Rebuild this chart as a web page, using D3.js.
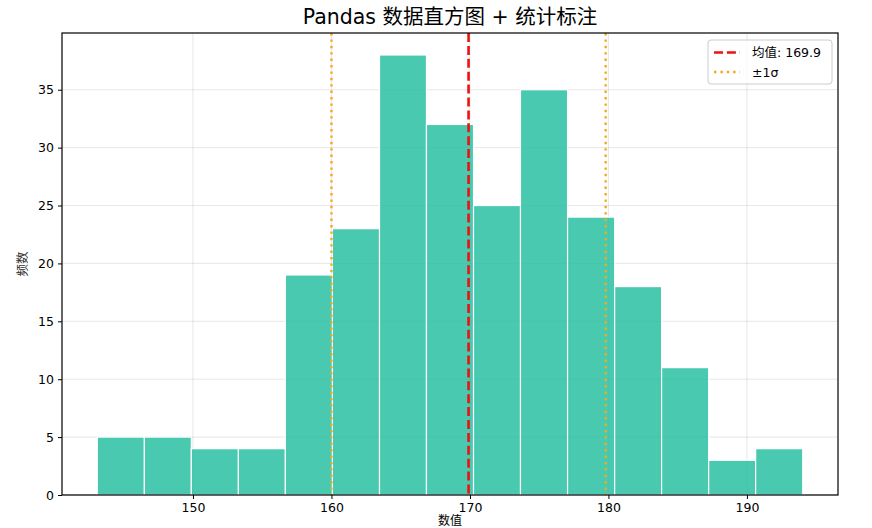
<!DOCTYPE html>
<html><head><meta charset="utf-8">
<script src="https://cdn.jsdelivr.net/npm/d3@7/dist/d3.min.js"></script>
<style>
body{margin:0;background:#fff;}
svg{display:block;}
text{font-family:"DejaVu Sans","Noto Sans CJK SC",sans-serif;}
</style></head>
<body>
<svg id="chart" width="872" height="528"></svg>
<script>
// Data
const binEdges = [143.09,146.49,149.88,153.28,156.67,160.07,163.47,166.86,170.26,173.65,177.05,180.45,183.84,187.24,190.63,194.03];
const counts = [5,5,4,4,19,23,38,32,25,35,24,18,11,3,4];
const meanValue = 169.9;
const sigmaLow = 160.0;
const sigmaHigh = 179.8;
const xTicks = [150,160,170,180,190];
const yTicks = [0,5,10,15,20,25,30,35];
const titleText = "Pandas 数据直方图 + 统计标注";
const xLabel = "数值";
const yLabel = "频数";
const legendLabels = ["均值: 169.9", "±1σ"];

const svg = d3.select("#chart");
const m = {left:62, right:838, top:33, bottom:495};

const xMin = binEdges[0], xMax = binEdges[binEdges.length-1];
const pad = (xMax - xMin) * 0.05;
const x = d3.scaleLinear().domain([xMin - pad, xMax + pad]).range([m.left, m.right]);
const yMaxC = d3.max(counts);
const y = d3.scaleLinear().domain([0, yMaxC * 1.05]).range([m.bottom, m.top]);
const sigmaColor = "#f2aa1f";

// grid
const g = svg.append("g");
g.selectAll("line.gx").data(xTicks).join("line")
  .attr("x1", d=>x(d)).attr("x2", d=>x(d)).attr("y1", m.top).attr("y2", m.bottom)
  .attr("stroke", "#b0b0b0").attr("stroke-opacity", 0.3).attr("stroke-width", 1);
g.selectAll("line.gy").data(yTicks).join("line")
  .attr("y1", d=>y(d)).attr("y2", d=>y(d)).attr("x1", m.left).attr("x2", m.right)
  .attr("stroke", "#b0b0b0").attr("stroke-opacity", 0.3).attr("stroke-width", 1);

// bars
const bins = counts.map((c,i)=>({x0:binEdges[i], x1:binEdges[i+1], c}));
svg.append("g").selectAll("rect").data(bins).join("rect")
  .attr("x", d=>x(d.x0)).attr("width", d=>x(d.x1)-x(d.x0))
  .attr("y", d=>y(d.c)).attr("height", d=>y(0)-y(d.c))
  .attr("fill", "#1abc9c").attr("fill-opacity", 0.8)
  .attr("stroke", "#ffffff").attr("stroke-width", 1.2);

// mean and sigma lines
svg.append("line").attr("x1", x(meanValue)).attr("x2", x(meanValue))
  .attr("y1", m.top).attr("y2", m.bottom)
  .attr("stroke", "#ee1111").attr("stroke-width", 2.6).attr("stroke-dasharray", "9,3.9");
[sigmaLow, sigmaHigh].forEach(v=>{
  svg.append("line").attr("x1", x(v)).attr("x2", x(v))
    .attr("y1", m.top).attr("y2", m.bottom)
    .attr("stroke", sigmaColor).attr("stroke-width", 2.4).attr("stroke-dasharray", "2.4,4");
});

// axes frame
svg.append("rect").attr("x", m.left).attr("y", m.top)
  .attr("width", m.right-m.left).attr("height", m.bottom-m.top)
  .attr("fill", "none").attr("stroke", "#000").attr("stroke-width", 1.2);

const xAxis = svg.append("g").attr("transform", `translate(0,${m.bottom})`)
  .call(d3.axisBottom(x).tickValues(xTicks).tickSize(4).tickPadding(4).tickFormat(d3.format("d")));
const yAxis = svg.append("g").attr("transform", `translate(${m.left},0)`)
  .call(d3.axisLeft(y).tickValues(yTicks).tickSize(4).tickPadding(4).tickFormat(d3.format("d")));
[xAxis, yAxis].forEach(a=>{
  a.select(".domain").remove();
  a.selectAll("text").attr("font-size", 12.5).attr("fill", "#000")
    .attr("font-family", '"DejaVu Sans",sans-serif');
  a.selectAll("line").attr("stroke", "#000").attr("stroke-width", 1);
});

// title and labels
svg.append("text").attr("x", (m.left+m.right)/2).attr("y", 24)
  .attr("text-anchor", "middle").attr("font-size", 20.5)
  .attr("font-family", '"Liberation Sans","Noto Sans CJK SC",sans-serif')
  .text(titleText);
svg.append("text").attr("x", (m.left+m.right)/2).attr("y", 525)
  .attr("text-anchor", "middle").attr("font-size", 12)
  .attr("font-family", '"Noto Sans CJK SC",sans-serif').text(xLabel);
svg.append("text").attr("transform", `translate(27,${(m.top+m.bottom)/2}) rotate(-90)`)
  .attr("text-anchor", "middle").attr("font-size", 12.5)
  .attr("font-family", '"Noto Sans CJK SC",sans-serif').attr("fill", "#333").text(yLabel);

// legend
const lg = svg.append("g").attr("transform", "translate(708,40)");
lg.append("rect").attr("width", 124).attr("height", 44).attr("rx", 3)
  .attr("fill", "#fff").attr("fill-opacity", 0.8).attr("stroke", "#cccccc").attr("stroke-width", 1);
lg.append("line").attr("x1", 6).attr("x2", 32).attr("y1", 12.5).attr("y2", 12.5)
  .attr("stroke", "#ee1111").attr("stroke-width", 2.6).attr("stroke-dasharray", "9,3.9");
lg.append("line").attr("x1", 6).attr("x2", 32).attr("y1", 32).attr("y2", 32)
  .attr("stroke", sigmaColor).attr("stroke-width", 2.4).attr("stroke-dasharray", "2.4,4");
lg.selectAll("text.lt").data(legendLabels).join("text")
  .attr("x", 44).attr("y", (d,i)=>17 + i*19.5)
  .attr("font-size", 12.5).attr("font-family", '"DejaVu Sans","Noto Sans CJK SC",sans-serif')
  .text(d=>d);
</script>
</body></html>
